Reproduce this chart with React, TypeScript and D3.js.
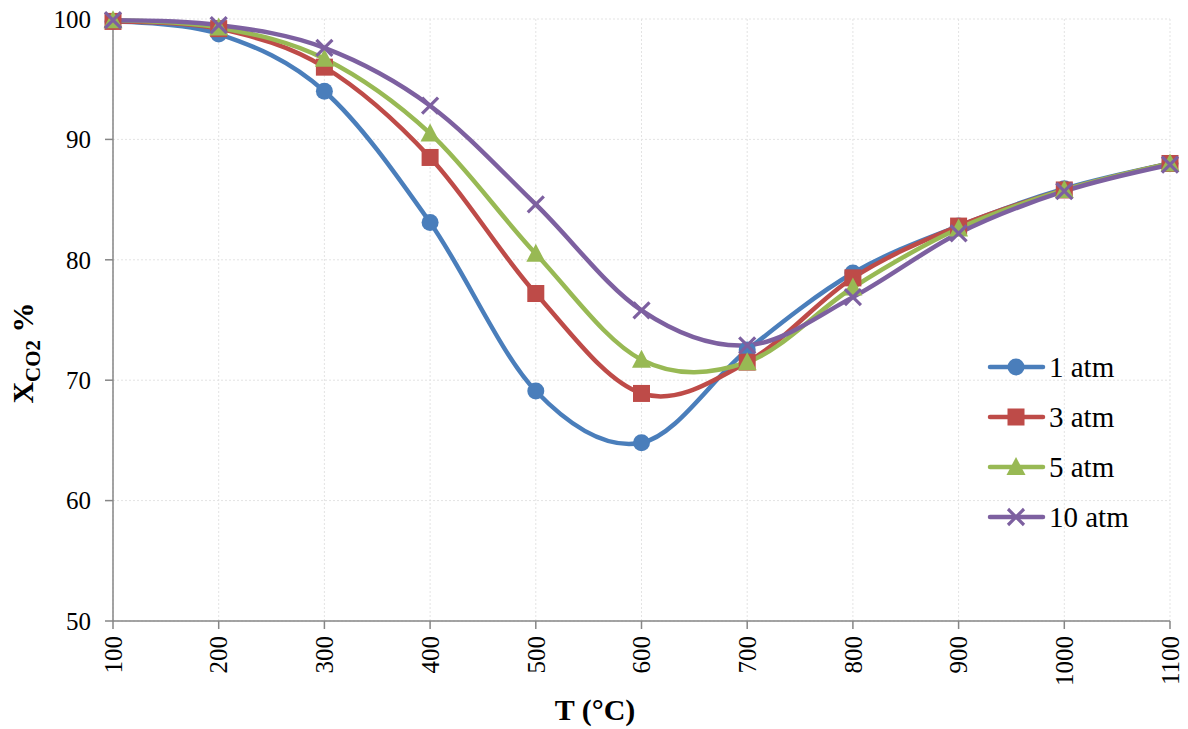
import React from "react";
import * as d3 from "d3";

const temps = [100, 200, 300, 400, 500, 600, 700, 800, 900, 1000, 1100];
const atm1 = [99.8, 98.75, 94.0, 83.1, 69.1, 64.8, 72.5, 78.9, 82.8, 85.9, 88.0];
const atm3 = [99.8, 99.2, 96.0, 88.5, 77.2, 68.9, 71.5, 78.5, 82.8, 85.8, 88.0];
const atm5 = [99.9, 99.3, 96.7, 90.5, 80.5, 71.7, 71.5, 77.7, 82.6, 85.8, 88.0];
const atm10 = [99.9, 99.5, 97.6, 92.8, 84.6, 75.8, 72.9, 76.9, 82.2, 85.7, 87.9];
const yTicks = [50, 60, 70, 80, 90, 100];

const seriesNames = ["1 atm", "3 atm", "5 atm", "10 atm"];
const seriesColors = ["#4A7EBB", "#BE4B48", "#98B954", "#7D60A0"];
const seriesMarkers = ["circle", "square", "triangle", "cross"];

const W = 1188;
const H = 729;
const margin = { top: 19, right: 18, bottom: 108, left: 113 };
const FONT = "'Liberation Serif', 'Times New Roman', serif";

const Marker = ({ type, x, y, color }: { type: string; x: number; y: number; color: string }) => {
  if (type === "circle") return <circle cx={x} cy={y} r={8.5} fill={color} />;
  if (type === "square") return <rect x={x - 8.5} y={y - 8.5} width={17} height={17} fill={color} />;
  if (type === "triangle")
    return <path d={`M${x},${y - 10} L${x + 9.5},${y + 8} L${x - 9.5},${y + 8} Z`} fill={color} />;
  return (
    <path
      d={`M${x - 8},${y - 8} L${x + 8},${y + 8} M${x - 8},${y + 8} L${x + 8},${y - 8}`}
      stroke={color}
      strokeWidth={3.2}
    />
  );
};

export default function App() {
  const series = [atm1, atm3, atm5, atm10];
  const x = d3.scaleLinear().domain([100, 1100]).range([margin.left, W - margin.right]);
  const y = d3.scaleLinear().domain([50, 100]).range([H - margin.bottom, margin.top]);

  const line = d3
    .line<number>()
    .x((_, i) => x(temps[i]))
    .y((d) => y(d))
    .curve(d3.curveCatmullRom.alpha(0));

  const x0 = x(100);
  const x1 = x(1100);
  const y0 = y(50);

  return (
    <svg width={W} height={H} style={{ position: "absolute", left: 0, top: 0, background: "#fff" }}>
      {/* grid */}
      {yTicks.map((t) => (
        <line key={"gy" + t} x1={x0} x2={x1} y1={y(t)} y2={y(t)} stroke="#e3e3e3" strokeDasharray="2,2" />
      ))}
      {temps.map((t) => (
        <line key={"gx" + t} x1={x(t)} x2={x(t)} y1={y(100)} y2={y0} stroke="#e3e3e3" strokeDasharray="2,2" />
      ))}

      {/* axes */}
      <line x1={x0} x2={x0} y1={y(100)} y2={y0} stroke="#868686" strokeWidth={1.5} />
      <line x1={x0} x2={x1} y1={y0} y2={y0} stroke="#868686" strokeWidth={1.5} />
      {yTicks.map((t) => (
        <g key={"ty" + t}>
          <line x1={x0 - 8} x2={x0} y1={y(t)} y2={y(t)} stroke="#868686" strokeWidth={1.5} />
          <text x={x0 - 22} y={y(t)} dy="0.35em" textAnchor="end" fontFamily={FONT} fontSize={25} fill="#000">
            {t}
          </text>
        </g>
      ))}
      {temps.map((t) => (
        <g key={"tx" + t}>
          <line x1={x(t)} x2={x(t)} y1={y0} y2={y0 + 8} stroke="#868686" strokeWidth={1.5} />
          <text
            transform={`translate(${x(t)},${y0 + 15}) rotate(-90)`}
            dy="0.35em"
            textAnchor="end"
            fontFamily={FONT}
            fontSize={25}
            fill="#000"
          >
            {t}
          </text>
        </g>
      ))}

      {/* axis titles */}
      <text x={595} y={720} textAnchor="middle" fontFamily={FONT} fontSize={30} fontWeight="bold">
        T (°C)
      </text>
      <text
        transform={`translate(33,353) rotate(-90)`}
        textAnchor="middle"
        fontFamily={FONT}
        fontSize={30}
        fontWeight="bold"
      >
        X<tspan fontSize={21} dy={7}>CO2</tspan>
        <tspan dy={-7}> %</tspan>
      </text>

      {/* series */}
      {series.map((s, si) => (
        <path
          key={"l" + si}
          d={line(s) || ""}
          fill="none"
          stroke={seriesColors[si]}
          strokeWidth={4.5}
          strokeLinejoin="round"
        />
      ))}
      {series.map((s, si) =>
        s.map((v, i) => (
          <Marker key={`m${si}-${i}`} type={seriesMarkers[si]} x={x(temps[i])} y={y(v)} color={seriesColors[si]} />
        ))
      )}

      {/* legend */}
      {seriesNames.map((name, i) => {
        const ly = 367 + i * 50;
        return (
          <g key={"lg" + i}>
            <line x1={990} x2={1043} y1={ly} y2={ly} stroke={seriesColors[i]} strokeWidth={4.5} strokeLinecap="round" />
            <Marker type={seriesMarkers[i]} x={1016} y={ly} color={seriesColors[i]} />
            <text x={1049} y={ly} dy="0.35em" fontFamily={FONT} fontSize={29} fill="#000">
              {name}
            </text>
          </g>
        );
      })}
    </svg>
  );
}
